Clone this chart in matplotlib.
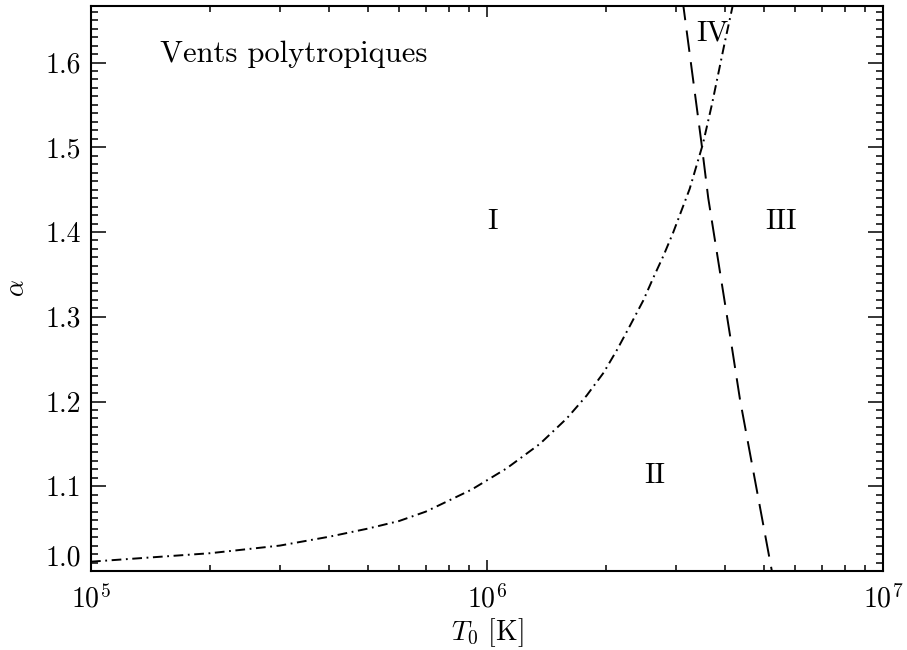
import matplotlib
matplotlib.use("Agg")
import matplotlib.pyplot as plt
from matplotlib.ticker import MultipleLocator, LogLocator, NullFormatter, FixedLocator, FixedFormatter

plt.rcParams['font.family'] = ['cmr10', 'DejaVu Serif']
plt.rcParams['mathtext.fontset'] = 'cm'
plt.rcParams['axes.formatter.use_mathtext'] = True
plt.rcParams['lines.scale_dashes'] = False

# Critical curve separating regimes I and II (dash-dot)
t_crit = [1.0e5, 2.0e5, 3.0e5, 4.0e5, 5.0e5, 6.0e5, 7.0e5, 7.76e5, 9.14e5,
          1.12e6, 1.36e6, 1.59e6, 1.785e6, 1.97e6, 2.13e6, 2.30e6, 2.48e6,
          2.63e6, 2.79e6, 2.95e6, 3.25e6, 3.51e6, 3.70e6, 3.87e6, 3.99e6,
          4.16e6, 4.20e6]
alpha_crit = [1.011, 1.021, 1.030, 1.0405, 1.050, 1.059, 1.070, 1.080, 1.096,
              1.121, 1.150, 1.180, 1.207, 1.234, 1.261, 1.290, 1.319,
              1.346, 1.372, 1.399, 1.451, 1.504, 1.551, 1.595, 1.625,
              1.664, 1.675]

# Boundary between regimes II and III (dashed)
t_bound = [3.10e6, 3.13e6, 3.48e6, 3.62e6, 4.125e6, 4.355e6, 5.24e6, 5.28e6]
alpha_bound = [1.675, 1.668, 1.505, 1.44, 1.273, 1.202, 1.000, 0.99]

region_names = ['I', 'II', 'III', 'IV']
region_t = [1.03e6, 2.65e6, 5.52e6, 3.72e6]
region_alpha = [1.412, 1.112, 1.412, 1.634]

x_ticks = [1e5, 1e6, 1e7]
x_ticklabels = [r'$10^5$', r'$10^6$', r'$10^7$']
y_ticks = [1.0, 1.1, 1.2, 1.3, 1.4, 1.5, 1.6]
y_ticklabels = ['1.0', '1.1', '1.2', '1.3', '1.4', '1.5', '1.6']

fig = plt.figure(figsize=(9.07, 6.5), dpi=100)
ax = fig.add_axes([91 / 907, 79 / 650, 792 / 907, 565 / 650])

ax.plot(t_crit, alpha_crit, color='black', lw=1.4,
        dashes=(7.0, 3.3, 1.3, 3.3))
ax.plot(t_bound, alpha_bound, color='black', lw=1.4,
        dashes=(15.5, 7.5))

ax.set_xscale('log')
ax.set_xlim(1e5, 1e7)
ax.set_ylim(1.0, 5.0 / 3.0)

ax.xaxis.set_major_locator(FixedLocator(x_ticks))
ax.xaxis.set_major_formatter(FixedFormatter(x_ticklabels))
ax.xaxis.set_minor_locator(LogLocator(base=10, subs=range(2, 10), numticks=20))
ax.xaxis.set_minor_formatter(NullFormatter())
ax.yaxis.set_major_locator(FixedLocator(y_ticks))
ax.yaxis.set_major_formatter(FixedFormatter(y_ticklabels))
ax.yaxis.set_minor_locator(MultipleLocator(0.01))

ax.tick_params(which='both', direction='in', top=True, right=True,
               width=1.1, colors='black', labelsize=20)
ax.tick_params(axis='x', which='major', length=8, pad=10)
ax.tick_params(axis='x', which='minor', length=4)
ax.tick_params(axis='y', which='major', length=11, pad=7)
ax.tick_params(axis='y', which='minor', length=5)
for sp in ax.spines.values():
    sp.set_linewidth(1.5)

# keep the lowest y label above the bottom axis
ax.yaxis.get_major_ticks()[0].label1.set_va('bottom')

ax.set_xlabel(r'$T_0$ [K]', fontsize=20, labelpad=2)
ax.set_ylabel(r'$\alpha$', fontsize=19, labelpad=12)

for name, t, a in zip(region_names, region_t, region_alpha):
    ax.text(t, a, name, fontsize=21, ha='center', va='center')

ax.text(0.087, 0.901, 'Vents polytropiques', transform=ax.transAxes,
        fontsize=22, ha='left', va='baseline')

fig.savefig('out.png', dpi=100)
